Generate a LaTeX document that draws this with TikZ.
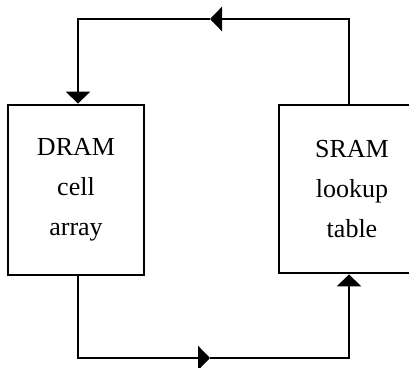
\documentclass[tikz,border=0pt]{standalone}
\usepackage{fontspec}
\setmainfont{Liberation Serif}
\usetikzlibrary{arrows.meta}
\begin{document}
\begin{tikzpicture}[x=1pt,y=1pt,
  blockbox/.style={draw=black,line width=2.8pt,minimum width=136pt,minimum height=170pt,
    inner sep=0pt,align=center,font=\fontsize{26}{40}\selectfont},
  conn/.style={line width=2.8pt,draw=black},
  tip/.style={-{Triangle[width=24pt,length=12pt]}}]
\useasboundingbox (0,0) rectangle (409,367);
\node[blockbox] (dram) at (76,177) {DRAM\\cell\\array};
\node[blockbox,minimum width=146pt,minimum height=168pt] (sram) at (352,178) {SRAM\\lookup\\table};
\coordinate (c1) at (349,348);
\coordinate (c2) at (78,348);
\coordinate (m1) at (210,348);
\coordinate (c3) at (78,9);
\coordinate (c4) at (349,9);
\coordinate (m2) at (210,9);
\draw[conn,tip] (sram.north -| c1) -- (c1) -- (m1);
\draw[conn,tip] (m1) -- (c2) -- (dram.north -| c2);
\draw[conn,tip] (dram.south -| c3) -- (c3) -- (m2);
\draw[conn,tip] (m2) -- (c4) -- (sram.south -| c4);
\end{tikzpicture}
\end{document}
